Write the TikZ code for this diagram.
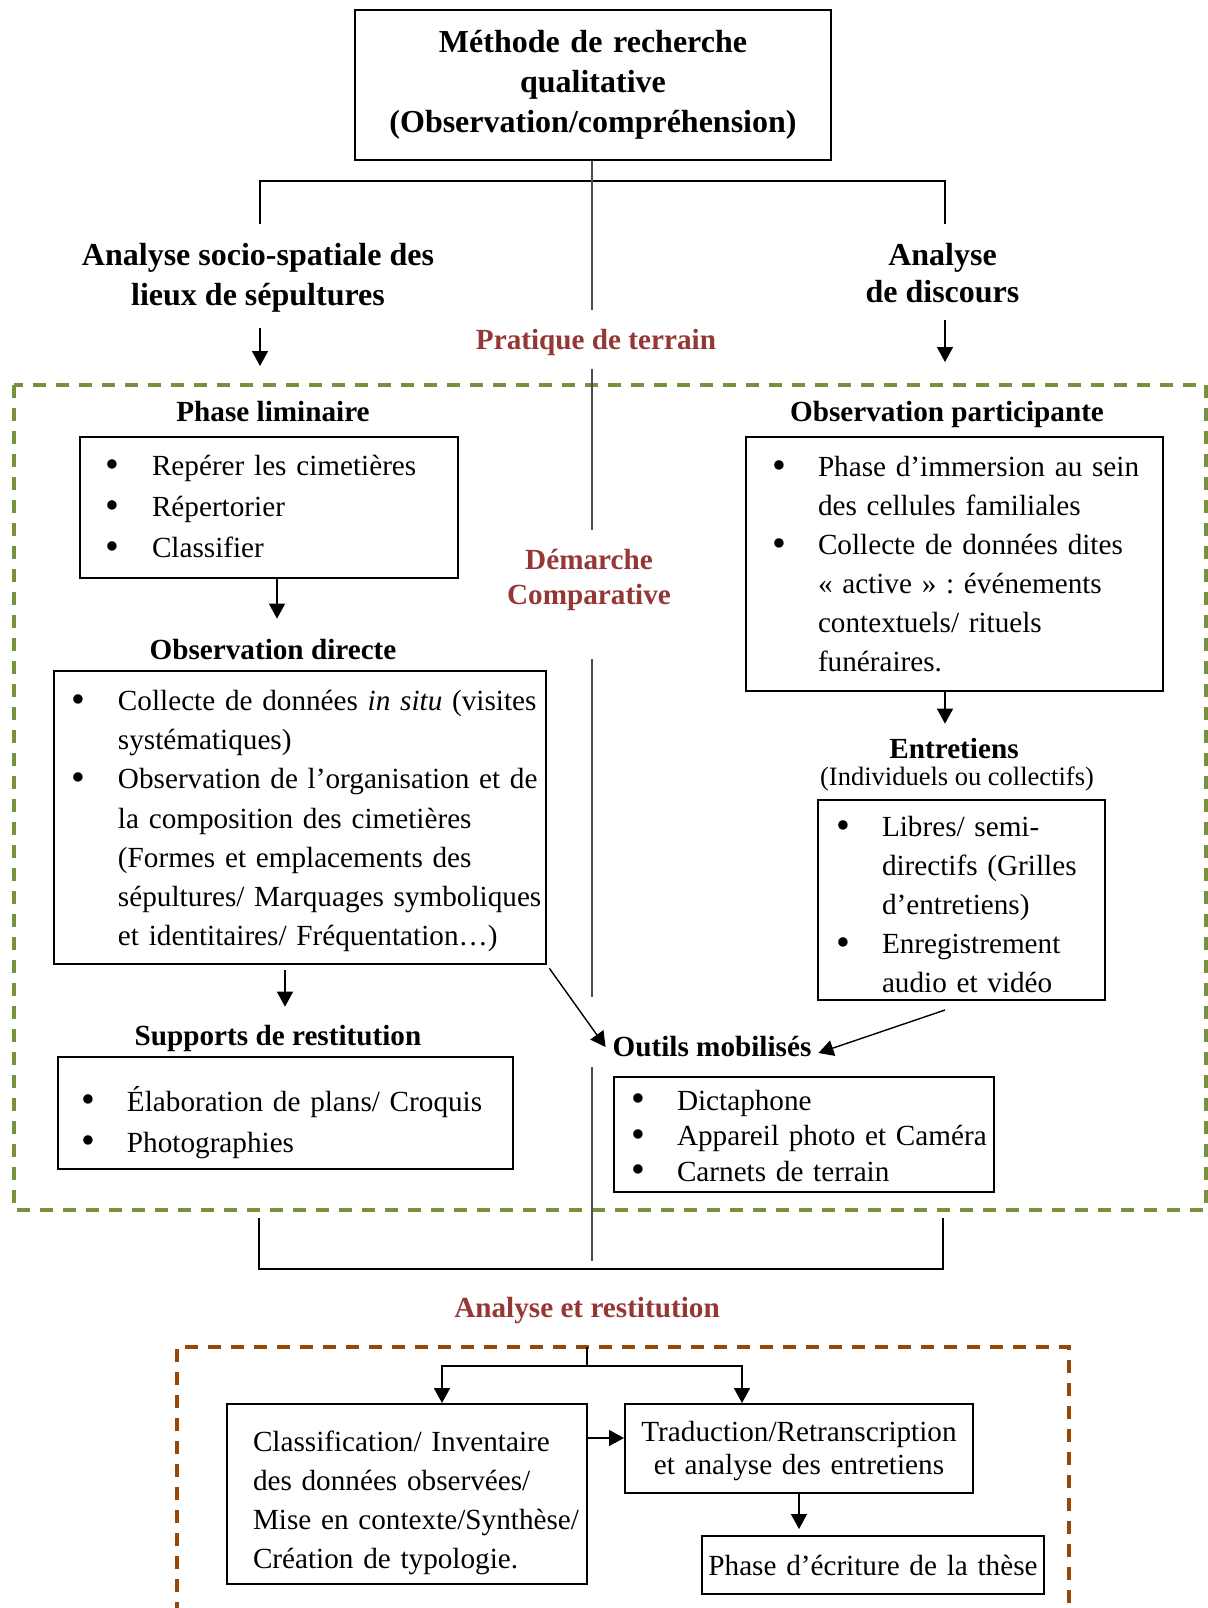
\documentclass[tikz,border=0pt]{standalone}
\usepackage{fontspec}
\setmainfont{Liberation Serif}
\usetikzlibrary{arrows.meta, calc}
\definecolor{olivevert}{RGB}{118,146,60}
\definecolor{brique}{RGB}{152,72,6}
\definecolor{bordeaux}{RGB}{149,55,53}
\newcommand{\puce}{\makebox[23pt][l]{\raisebox{-0.8pt}{\scalebox{1.35}{\textbullet}}}}
\newcommand{\suite}{\hspace*{23pt}}
\frenchspacing

\begin{document}
\begin{tikzpicture}[x=0.5pt, y=-0.5pt,
        every node/.style={font=\fontsize{14.6pt}{19.5pt}\selectfont},
        boite/.style={draw, line width=1pt, inner sep=0pt, align=left},
        interligne/.style={font=\fontsize{14.6pt}{#1}\selectfont},
        retrait/.style={execute at begin node={\setlength{\leftskip}{#1}}},
        abaisse/.style={execute at end node={\endgraf\kern-#1}},
        grand/.style={font=\bfseries\fontsize{16pt}{#1}\selectfont, align=center},
        entete/.style={font=\bfseries\fontsize{14.6pt}{17.5pt}\selectfont, align=center},
        rouge/.style={entete, text=bordeaux},
        fleche/.style={-{Triangle[length=7.5pt, width=8pt]}, line width=0.7pt},
        axe/.style={line width=0.6pt, black!70},
        pointille/.style={dash pattern=on 6.5pt off 5pt, line width=1.7pt}]
    \useasboundingbox (0,0) rectangle (1208,1608);

    % cadres en pointilles
    \draw[pointille, olivevert] (14,385) rectangle (1206,1210);
    \draw[pointille, brique] (177,1615) -- (177,1347) -- (1069,1347) -- (1069,1615);

    % haut
    \node[boite, grand=20pt, text width=238pt, minimum height=75pt] (titre) at (593,85)
        {Méthode de recherche\\qualitative\\(Observation/compréhension)};
    \node[grand=20pt] (asoc) at (258,278) {Analyse socio-spatiale des\\lieux de sépultures};
    \node[grand=18.5pt] (adisc) at (942.5,273.5) {Analyse\\de discours};
    \node[rouge] (pratique) at (596,342) {Pratique de terrain};

    \coordinate (hg) at (260,224);
    \coordinate (hd) at (945,224);
    \draw[line width=0.8pt] (hg) -- ++(0,-43) -| (hd);
    \coordinate (flg) at (260,366);
    \coordinate (fld) at (945,362);
    \draw[fleche, shorten <=4pt] (asoc.south -| flg) -- (flg);
    \draw[fleche, shorten <=5pt] (adisc.south -| fld) -- (fld);

    % axe central
    \coordinate (a1) at (592,310);
    \coordinate (a2) at (592,369);
    \coordinate (a3) at (592,530);
    \coordinate (a4) at (592,659);
    \coordinate (a5) at (592,997);
    \coordinate (a6) at (592,1067);
    \coordinate (a7) at (592,1261);
    \draw[axe] (titre.south -| a1) -- (a1) (a2) -- (a3) (a4) -- (a5) (a6) -- (a7);
    \node[rouge] (demarche) at (589,580) {Démarche\\Comparative};

    % colonne gauche
    \node[entete] (phlim) at (273,412) {Phase liminaire};
    \node[boite, interligne=20.5pt, retrait=13pt, text width=189pt, minimum height=70.5pt] (reperer) at (269,507.5)
        {\puce Repérer les cimetières\\\puce Répertorier\\\puce Classifier};
    \node[entete] (obsdir) at (273,649) {Observation directe};
    \node[boite, interligne=19.6pt, retrait=9pt, abaisse=3.6pt, text width=246pt, minimum height=146.5pt] (collecte) at (300,817.5)
        {\puce Collecte de données \textit{in situ} (visites\\
         \suite systématiques)\\
         \puce Observation de l’organisation et de\\
         \suite la composition des cimetières\\
         \suite (Formes et emplacements des\\
         \suite sépultures/ Marquages symboliques\\
         \suite et identitaires/ Fréquentation…)};
    \node[entete] (supports) at (278,1038) {Supports de restitution};
    \node[boite, interligne=20.5pt, retrait=11.5pt, abaisse=9.2pt, text width=227.5pt, minimum height=56pt] (elabor) at (285.5,1113)
        {\puce Élaboration de plans/ Croquis\\\puce Photographies};

    \draw[fleche, shorten >=6.5pt] ([xshift=4pt]reperer.south) -- ([xshift=4pt]reperer.south |- obsdir.north);
    \draw[fleche, shorten <=2.5pt, shorten >=5.5pt] ([xshift=-7.5pt]collecte.south) -- ([xshift=-7.5pt]collecte.south |- supports.north);

    % colonne droite
    \node[entete] (obspart) at (947,414) {Observation participante};
    \node[boite, interligne=19.5pt, retrait=13pt, text width=208.5pt, minimum height=127pt] (immersion) at (954.5,564)
        {\puce Phase d’immersion au sein\\
         \suite des cellules familiales\\
         \puce Collecte de données dites\\
         \suite « active » : événements\\
         \suite contextuels/ rituels\\
         \suite funéraires.};
    \node[entete] (entretiens) at (954,748) {Entretiens};
    \node[font=\fontsize{13.25pt}{16pt}\selectfont] (modalite) at (957,779) {(Individuels ou collectifs)};
    \node[boite, interligne=19.5pt, retrait=9pt, abaisse=4.6pt, text width=143.5pt, minimum height=100pt] (libres) at (961.5,900)
        {\puce Libres/ semi-\\
         \suite directifs (Grilles\\
         \suite d’entretiens)\\
         \puce Enregistrement\\
         \suite audio et vidéo};
    \node[entete] (outils) at (712,1047) {Outils mobilisés};
    \node[boite, interligne=17.75pt, retrait=8.5pt, abaisse=2pt, text width=190pt, minimum height=57.5pt] (dicta) at (804,1134.5)
        {\puce Dictaphone\\\puce Appareil photo et Caméra\\\puce Carnets de terrain};

    \draw[fleche, shorten >=3.5pt] ([xshift=-4.75pt]immersion.south) -- ([xshift=-4.75pt]immersion.south |- entretiens.north);
    \draw[fleche] ([xshift=-8.25pt, yshift=-4.5pt]libres.south) -- ([yshift=-3pt]outils.east);
    \draw[fleche, shorten <=2pt] (collecte.south east) -- (outils.west);

    % bas
    \coordinate (bg) at (259,1218);
    \coordinate (bd) at (943,1218);
    \draw[line width=0.8pt] (bg) -- ++(0,51) -| (bd);
    \node[rouge] (anarest) at (587,1311) {Analyse et restitution};

    \node[boite, interligne=19.5pt, retrait=13pt, abaisse=8.8pt, text width=180pt, minimum height=90pt] (classif) at (407,1494)
        {Classification/ Inventaire\\des données observées/\\Mise en contexte/Synthèse/\\Création de typologie.};
    \node[boite, interligne=16.5pt, abaisse=2.5pt, align=center, text width=174pt, minimum height=44.5pt] (tradu) at (799,1448.5)
        {Traduction/Retranscription\\et analyse des entretiens};
    \node[boite, align=center, text width=171pt, minimum height=29pt] (these) at (873,1565)
        {Phase d’écriture de la thèse};

    \coordinate (haut) at (587,1347);
    \coordinate (jonc) at (587,1366);
    \draw[line width=0.8pt] (haut) -- (jonc);
    \draw[fleche, line width=0.9pt] (jonc) -| ([xshift=17.5pt]classif.north);
    \draw[fleche, line width=0.9pt] (jonc) -| ([xshift=-28.5pt]tradu.north);
    \coordinate (tw) at ([yshift=5.25pt]tradu.west);
    \draw[fleche] (tw -| classif.east) -- (tw);
    \draw[fleche, shorten >=3pt] (tradu.south) -- (tradu.south |- these.north);
\end{tikzpicture}
\end{document}
